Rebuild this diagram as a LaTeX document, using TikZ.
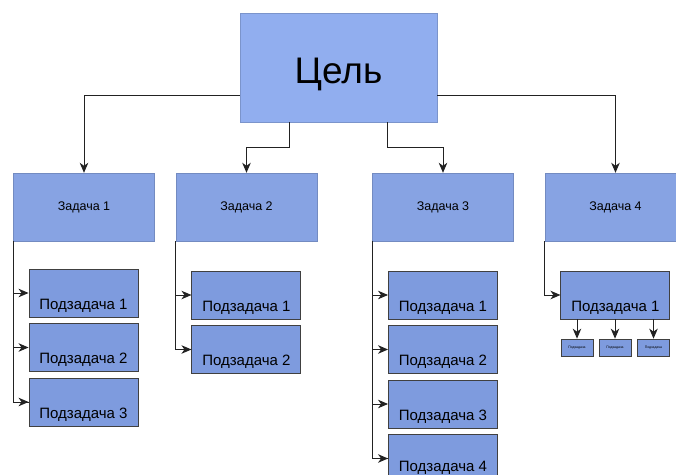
\documentclass[tikz,border=0pt]{standalone}
\usepackage{fontspec}
\setmainfont{Liberation Sans}
\usetikzlibrary{arrows.meta}
\definecolor{goalblue}{HTML}{91AEEF}
\definecolor{taskblue}{HTML}{87A3E3}
\definecolor{subblue}{HTML}{7E9BDE}
\definecolor{linegray}{HTML}{222222}
\begin{document}
\begin{tikzpicture}[x=1pt, y=-1pt]
      \useasboundingbox (0,0) rectangle (676,474);
      \tikzstyle{goalbox}=[rectangle, fill=goalblue, draw=goalblue!85!black, line width=0.4pt,
        minimum width=197pt, minimum height=109pt, inner sep=0pt,
        text height=70pt, text depth=39pt, font=\fontsize{37}{37}\selectfont]
      \tikzstyle{taskbox}=[rectangle, fill=taskblue, draw=taskblue!85!black, line width=0.4pt,
        minimum width=141pt, minimum height=68pt, font=\fontsize{12.5}{12.5}\selectfont]
      \tikzstyle{subbox}=[rectangle, fill=subblue, draw=black!75, line width=0.9pt,
        minimum width=109pt, inner xsep=0pt, inner ysep=4pt,
        text height=36pt, text depth=4pt, font=\fontsize{15}{15}\selectfont]
      \tikzstyle{tinybox}=[rectangle, fill=subblue, draw=black!75, line width=0.7pt,
        minimum width=32pt, minimum height=17pt, inner sep=0pt,
        font=\fontsize{3.4}{3.4}\selectfont]
      \tikzstyle{link}=[draw=linegray, line width=1pt]
      \tikzstyle{arrow}=[link, -{Stealth[length=10pt, width=8.5pt, inset=3pt]}]

      \path (338.5, 67.5) node[goalbox] (goal) {Цель};

      \foreach \i/\x in {1/84, 2/246.5, 3/443, 4/615.5}
      {
        \path (\x, 207) node[taskbox] (t\i) {Задача \i};
      }

      % subtasks, column by column
      \foreach \j in {1,2,3}
      {
        \path (83.5, 293+54.5*\j-54.5) node[subbox] (s1-\j) {Подзадача \j};
      }
      \foreach \j in {1,2}
      {
        \path (246.4, 295+54.5*\j-54.5) node[subbox] (s2-\j) {Подзадача \j};
      }
      \foreach \j in {1,2,3}
      {
        \path (443, 295+54.5*\j-54.5) node[subbox] (s3-\j) {Подзадача \j};
      }
      \path (443, 458.5) node[subbox, text height=33pt, text depth=7pt] (s3-4) {Подзадача 4};
      \path (615.4, 295) node[subbox] (s4-1) {Подзадача 1};

      \foreach \k/\x in {1/577, 2/615, 3/653.5}
      {
        \path (\x, 347.5) node[tinybox] (m\k) {Подзадача};
      }

      % goal to tasks
      \draw [arrow] ([yshift=-27.5pt]goal.west) -| (t1.north);
      \draw [arrow] ([xshift=-49pt]goal.south) -- ++(0,25) -| (t2.north);
      \draw [arrow] ([xshift=48.5pt]goal.south) -- ++(0,25) -| (t3.north);
      \draw [arrow] ([yshift=-27.5pt]goal.east) -| (t4.north);

      % tasks to subtasks
      \draw [link] (t1.south west) |- (s1-3.west);
      \foreach \j in {1,2,3}
        \draw [arrow] (t1.south west |- s1-\j.west) -- (s1-\j.west);
      \draw [link] (t2.south west) |- (s2-2.west);
      \foreach \j in {1,2}
        \draw [arrow] (t2.south west |- s2-\j.west) -- (s2-\j.west);
      \draw [link] (t3.south west) |- (s3-4.west);
      \foreach \j in {1,2,3,4}
        \draw [arrow] (t3.south west |- s3-\j.west) -- (s3-\j.west);
      \draw [arrow] (t4.south west) |- (s4-1.west);

      \foreach \k in {1,2,3}
        \draw [arrow] (s4-1.south -| m\k.north) -- (m\k.north);
    \end{tikzpicture}
\end{document}
